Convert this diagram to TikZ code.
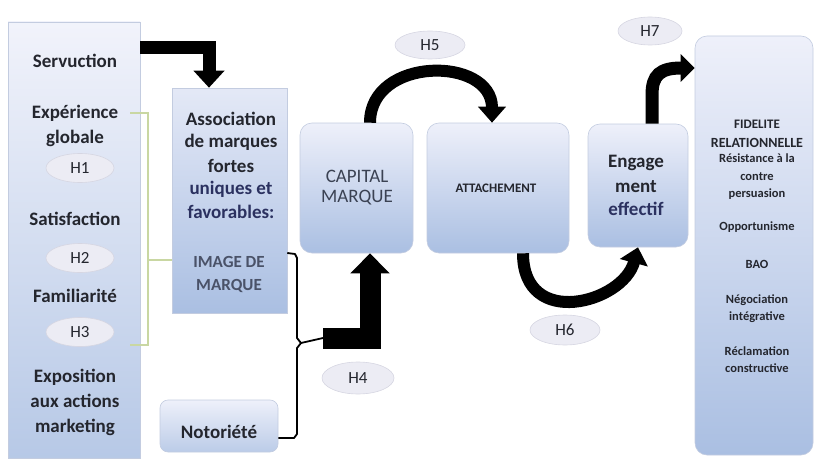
\documentclass[tikz,border=0pt]{standalone}
\usepackage{fontspec}
\setmainfont{Carlito}
\usetikzlibrary{shapes.geometric,arrows.meta}
\definecolor{edgec}{HTML}{C3CCE0}
\definecolor{topc}{HTML}{EEF0FA}
\definecolor{botc}{HTML}{AABFE2}
\definecolor{hfill}{HTML}{ECECF4}
\definecolor{hdraw}{HTML}{D6D6E2}
\definecolor{txt}{HTML}{24262E}
\definecolor{navy}{HTML}{2B3160}
\definecolor{graytxt}{HTML}{4A5268}
\definecolor{greenbr}{HTML}{C9D7A2}
\tikzset{
  box/.style={draw=edgec, line width=0.6pt, top color=topc, bottom color=botc, inner sep=0pt},
  rbox/.style={box, rounded corners=12pt},
  hyp/.style={ellipse, fill=hfill, draw=hdraw, line width=0.6pt, minimum width=68pt, minimum height=29pt, inner sep=0pt, font=\fontsize{17}{17}\selectfont, text=txt},
  lbl/.style={anchor=base, inner sep=0pt, font=\bfseries\fontsize{19}{23}\selectfont, text=txt},
  slbl/.style={anchor=base, inner sep=0pt, font=\bfseries\fontsize{12.5}{14}\selectfont, text=txt},
  fat/.style={draw=black, line width=13pt, line join=miter},
  arc/.style={draw=black, line width=12pt},
  thinbr/.style={draw=black, line width=1.8pt, line join=round},
  grbr/.style={draw=greenbr, line width=2.5pt},
}
\begin{document}
\begin{tikzpicture}[x=1pt,y=-1pt]
\useasboundingbox (0,0) rectangle (814,460);
% boxes
\node[box, minimum width=132pt, minimum height=436pt, top color=topc!80!white, bottom color=botc!85!white] (left) at (74,240) {};
\node[box, minimum width=115pt, minimum height=225pt, top color=topc!85!botc] (assoc) at (229.5,200.5) {};
\node[rbox, rounded corners=8pt, minimum width=118pt, minimum height=52pt, bottom color=botc!80!white] (noto) at (219,426) {};
\node[rbox, minimum width=113pt, minimum height=130pt] (cap) at (356.5,188) {};
\node[rbox, minimum width=142pt, minimum height=130pt] (att) at (498,188) {};
\node[rbox, minimum width=100pt, minimum height=123pt] (eng) at (638,185.5) {};
\node[rbox, minimum width=118pt, minimum height=419pt] (fid) at (754,245.5) {};

% left box texts
\node[lbl] (t1) at (75,67) {Servuction};
\node[lbl] (t2) at (75,118) {Expérience};
\node[lbl] (t3) at (75,143) {globale};
\node[lbl] (t4) at (75,225) {Satisfaction};
\node[lbl] (t5) at (75,302) {Familiarité};
\node[lbl] (t6) at (75,382) {Exposition};
\node[lbl] (t7) at (75,407) {aux actions};
\node[lbl] (t8) at (75,432) {marketing};
\node[hyp] (h1) at (80,168) {H1};
\node[hyp] (h2) at (80,258) {H2};
\node[hyp] (h3) at (80,332) {H3};

% association texts
\node[lbl] (a1) at (231,125) {Association};
\node[lbl] (a2) at (231,147) {de marques};
\node[lbl] (a3) at (231,172) {fortes};
\node[lbl, text=navy] (a4) at (231,194) {uniques et};
\node[lbl, text=navy] (a5) at (231,218) {favorables:};
\node[lbl, text=graytxt, font=\bfseries\fontsize{17}{20}\selectfont] (a6) at (229,267) {IMAGE DE};
\node[lbl, text=graytxt, font=\bfseries\fontsize{17}{20}\selectfont] (a7) at (229,290) {MARQUE};
\node[lbl] (n1) at (219,438) {Notoriété};

% capital / attachement / engagement
\node[lbl, font=\fontsize{19}{20}\selectfont, text=graytxt!80!black] (c1) at (357,182) {CAPITAL};
\node[lbl, font=\fontsize{19}{20}\selectfont, text=graytxt!80!black] (c2) at (357,202) {MARQUE};
\node[lbl, font=\bfseries\fontsize{13}{14}\selectfont] (at1) at (496,192) {ATTACHEMENT};
\node[lbl] (e1) at (636,167) {Engage};
\node[lbl] (e2) at (636,192) {ment};
\node[lbl, text=navy] (e3) at (636,215) {effectif};

% fidelite texts
\node[slbl, font=\bfseries\fontsize{13}{14}\selectfont] (f1) at (757,128) {FIDELITE};
\node[slbl, font=\bfseries\fontsize{14}{14}\selectfont] (f2) at (757,147) {RELATIONNELLE};
\node[slbl] (f3) at (757,162) {Résistance à la};
\node[slbl] (f4) at (757,180) {contre};
\node[slbl] (f5) at (757,197) {persuasion};
\node[slbl] (f6) at (757,230) {Opportunisme};
\node[slbl] (f7) at (757,268) {BAO};
\node[slbl] (f8) at (757,303) {Négociation};
\node[slbl] (f9) at (757,320) {intégrative};
\node[slbl] (f10) at (757,355) {Réclamation};
\node[slbl] (f11) at (757,372) {constructive};

% hypothesis ellipses
\node[hyp, minimum width=72pt, minimum height=32pt] (h4) at (358,378) {H4};
\node[hyp, minimum width=70pt, minimum height=28pt] (h5) at (430,45) {H5};
\node[hyp, minimum width=70pt, minimum height=30pt] (h6) at (565,330) {H6};
\node[hyp, minimum width=64pt, minimum height=28pt] (h7) at (650,31) {H7};

% green bracket
\coordinate (g1) at (130,113);
\coordinate (g2) at (130,345);
\draw[grbr] (g1) -- (148,113) -- (148,345) -- (g2);
\draw[grbr] (148,260) -- (assoc.west |- 0,260);

% black brace
\coordinate (btip) at (301,343);
\coordinate (fatstart) at (323,338);
\draw[thinbr] (assoc.east |- 0,253) -- (295,254) -- (297,258) -- (297,338) -- (btip) -- (297,348) -- (297,434) -- (294,438) -- (noto.east |- 0,438);
\draw[thinbr] (btip) -- (fatstart);

% Servuction arrow
\coordinate (s0) at (140,48);
\draw[fat, line width=13pt, -{Triangle[width=30pt,length=17pt]}] (s0) -| (assoc.north -| 209,0);

% H4 fat arrow
\draw[fat, line width=21pt, -{Triangle[width=38pt,length=20pt]}] (fatstart) -| ([xshift=13.5pt]cap.south);

% H5 arc
\draw[arc, -{Triangle[width=27pt,length=16pt]}] ([xshift=13.5pt]cap.north) .. controls (370,56) and (492,56) .. ([xshift=-6pt]att.north);

% H6 arc
\draw[arc, -{Triangle[width=28pt,length=16pt]}] ([xshift=25pt]att.south) .. controls (523,330) and (623,303) .. (eng.south);

% H7 arrow
\draw[arc, line width=13pt, -{Triangle[width=27pt,length=14pt]}] ([xshift=14pt]eng.north) -- (652,95) .. controls (652,75) and (660,68) .. (fid.west |- 0,68);
\end{tikzpicture}
\end{document}
